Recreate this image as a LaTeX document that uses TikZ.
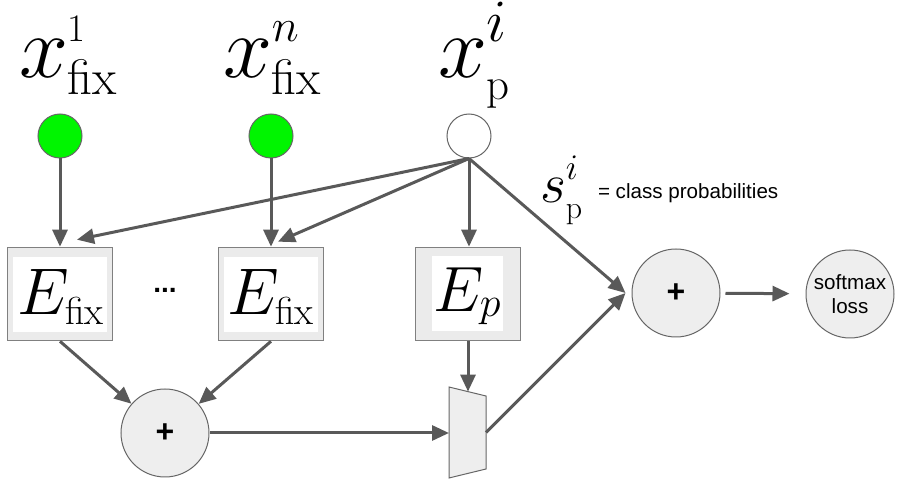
\RequirePackage{fix-cm}
\documentclass[tikz,border=0pt]{standalone}
\usepackage{fontspec}
\newfontfamily\arialf{Liberation Sans}
\usetikzlibrary{arrows.meta,calc}
\definecolor{linec}{HTML}{595959}
\definecolor{edgec}{HTML}{666666}
\definecolor{fillg}{HTML}{EEEEEE}
\definecolor{boxedge}{HTML}{808080}
\definecolor{boxfill}{HTML}{EBEBEB}
\definecolor{greenf}{RGB}{0,245,0}
\newcommand{\fsz}[2]{\mbox{\fontsize{#1}{#1}\selectfont #2}}
\begin{document}
\begin{tikzpicture}[x=0.5pt,y=-0.5pt,
  conn/.style={draw=linec, line width=1.5pt, -{Triangle[length=8.5pt,width=7.5pt]}},
  srcdot/.style={circle, draw=edgec, line width=0.5pt, minimum size=22pt, inner sep=0pt},
  sumc/.style={circle, draw=edgec, fill=fillg, line width=0.5pt, minimum size=44pt, inner sep=0pt},
  encbox/.style={rectangle, draw=boxedge, fill=boxfill, line width=0.8pt, minimum width=52.5pt, minimum height=46.5pt, inner sep=0pt},
  innerw/.style={rectangle, fill=white, inner sep=0pt, minimum height=37.5pt},
  plain/.style={inner sep=0pt, outer sep=0pt},
  sanslab/.style={font=\arialf\fontsize{10.3}{12}\selectfont}
]
\useasboundingbox (0,0) rectangle (902,486);

% input labels
\node[plain, anchor=base west] (l1) at (19,78)
  {\fontsize{44}{44}\selectfont$\displaystyle x^{\fsz{19.5}{1}}_{\fsz{25}{\raisebox{2.5pt}{fix}}}$};
\node[plain, anchor=base west] (l2) at (223,78)
  {\fontsize{44}{44}\selectfont$\displaystyle x^{\fsz{23}{$n$}}_{\fsz{25}{\raisebox{2.5pt}{fix}}}$};
\node[plain, anchor=base west] (l3) at (438,78)
  {\fontsize{44}{44}\selectfont$\displaystyle x^{\fsz{30}{$i$}}_{\fsz{22.5}{p}}$};

% input circles
\node[srcdot, fill=greenf] (g1) at (60,136) {};
\node[srcdot, fill=greenf] (g2) at (271,136) {};
\node[srcdot, fill=white] (pc) at (469,136) {};

% encoder boxes
\node[encbox] (b1) at (60,294) {};
\node[innerw, minimum width=47pt] (w1) at (60,294.5) {};
\node[plain, anchor=base] (e1) at (61,315) {\fontsize{33}{33}\selectfont$E_{\fsz{19.5}{fix}}$};

\node[encbox] (b2) at (271,294) {};
\node[innerw, minimum width=47pt] (w2) at (271,294.5) {};
\node[plain, anchor=base] (e2) at (271,315) {\fontsize{33}{33}\selectfont$E_{\fsz{19.5}{fix}}$};

\node[encbox] (b3) at (468,294) {};
\node[innerw, minimum width=35.5pt] (w3) at (467.5,294) {};
\node[plain, anchor=base] (e3) at (467.5,312) {\fontsize{32}{32}\selectfont$E_{\fsz{21}{\raisebox{2.5pt}{$p$}}}$};

\node[plain, anchor=base, font=\arialf\bfseries\fontsize{14}{14}\selectfont] (dots) at (165,293) {...};

% sum nodes
\node[sumc, font=\arialf\bfseries\fontsize{16}{16}\selectfont] (s1) at (165,433) {+};
\node[sumc, font=\arialf\bfseries\fontsize{16}{16}\selectfont] (s2) at (676,293) {+};
\node[sumc, sanslab, align=center] (sm) at (850,294) {softmax\\loss};

% trapezoid
\draw[fill=fillg, draw=edgec, line width=0.5pt] (449,387) -- (486,396) -- (486,469) -- (449,478) -- cycle;
\coordinate (trl) at (449,433);
\coordinate (trr) at (486,432.5);
\coordinate (trt) at (468,391.6);

% score label
\node[plain, anchor=base west] (sl) at (540,203)
  {\fontsize{28}{28}\selectfont$\displaystyle s^{\fsz{18}{$i$}}_{\fsz{16}{\raisebox{-1pt}{p}}}$};
\node[plain, anchor=base west, sanslab] (cp) at (598,199) {= class probabilities};

% targets
\coordinate (b1in) at ($(b1.north)+(17,-7)$);
\coordinate (b2in) at ($(b2.north)+(7,-5)$);
\coordinate (s2in) at ($(s2.west)+(-6,0)$);

% connectors
\draw[conn] (g1) -- (b1);
\draw[conn] (g2) -- (b2);
\draw[conn] (pc.south) -- (b1in);
\draw[conn] (pc.south) -- (b2in);
\draw[conn] (pc.south) -- (pc.south |- b3.north);
\draw[conn] (pc.south) -- (s2in);
\draw[conn] (b1.south) -- (s1);
\draw[conn] (b2.south) -- (s1);
\draw[conn] (b3.south) -- (trt);
\draw[conn] (s1) -- (trl);
\draw[conn] (trr) -- (s2in);
\draw[conn, shorten <=2.5pt, shorten >=8pt] (s2) -- (sm);
\end{tikzpicture}
\end{document}
